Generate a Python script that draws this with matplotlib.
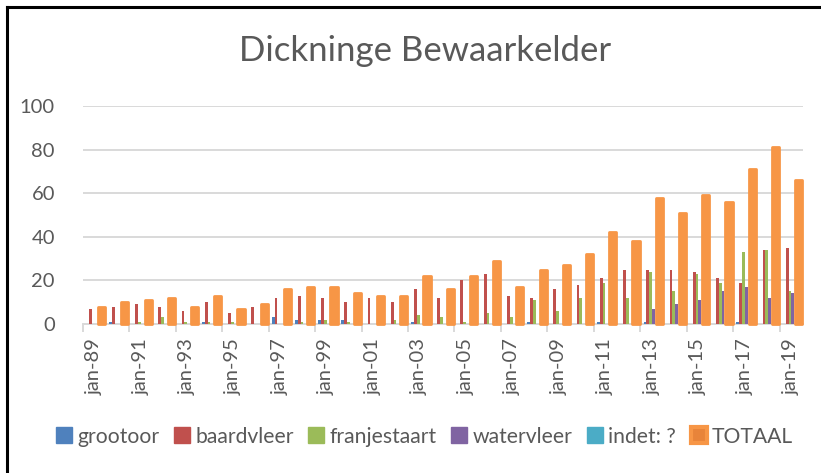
import numpy as np
import matplotlib.pyplot as plt
from matplotlib.patches import Patch
from matplotlib.lines import Line2D

plt.rcParams['font.family'] = ['Lato', 'DejaVu Sans']

# data
years = ['jan-%02d' % (y % 100) for y in range(1989, 2020)]
grootoor = [0, 1, 0, 0, 0, 1, 0, 0, 3, 2, 2, 2, 0, 0, 1, 0, 0, 0, 0, 1,
            0, 0, 1, 0, 1, 0, 0, 0, 1, 0, 0]
baardvleer = [7, 8, 9, 8, 6, 10, 5, 8, 12, 13, 12, 10, 12, 10, 16, 12, 20, 23, 13, 12,
              16, 18, 21, 25, 25, 25, 24, 21, 19, 34, 35]
franjestaart = [0, 0, 1, 3, 1, 1, 1, 0, 0, 1, 2, 1, 0, 2, 4, 3, 1, 5, 3, 11,
                6, 12, 19, 12, 24, 15, 23, 19, 33, 34, 15]
watervleer = [0, 0, 0, 0, 0, 0, 0, 0, 0, 0, 0, 0, 0, 0, 0, 0, 0, 0, 0, 0,
              0, 0, 0, 0, 7, 9, 11, 15, 17, 12, 14]
indet = [0] * 31
totaal = [8, 10, 11, 12, 8, 13, 7, 9, 16, 17, 17, 14, 13, 13, 22, 16, 22, 29, 17, 25,
          27, 32, 42, 38, 58, 51, 59, 56, 71, 81, 66]

names = ['grootoor', 'baardvleer', 'franjestaart', 'watervleer', 'indet: ?']
series = [grootoor, baardvleer, franjestaart, watervleer, indet]
colors = ['#4F81BD', '#C0504D', '#9BBB59', '#8064A2', '#4BACC6']
orange = '#F79646'
grey = '#595959'

fig = plt.figure(figsize=(8.21, 4.73), dpi=100)
ax = fig.add_axes([82.7 / 821, (473 - 324) / 473, (803 - 82.7) / 821, (324 - 106) / 473])

x = np.arange(len(years))
w = 0.121
for k, (vals, c) in enumerate(zip(series, colors)):
    ax.bar(x - 0.3025 + k * w, vals, width=w, color=c, zorder=3)

# total bars: wide, with rounded glow edge
ax.bar(x + 0.315, totaal, width=0.31, color=orange, edgecolor=orange,
       linewidth=2.0, joinstyle='round', zorder=4, clip_on=False)

ax.set_xlim(-0.5, 30.5)
ax.set_ylim(0, 100)
ax.set_yticks(range(0, 101, 20))
ax.yaxis.grid(True, color='#d9d9d9', linewidth=1.4)
ax.set_axisbelow(True)
for s in ['top', 'right', 'left']:
    ax.spines[s].set_visible(False)
ax.spines['bottom'].set_color('#d9d9d9')
ax.spines['bottom'].set_linewidth(1.4)
ax.tick_params(axis='y', length=0, pad=20, labelsize=14.5, labelcolor=grey)

ax.set_xticks(x[::2])
ax.set_xticklabels(years[::2], rotation=90)
ax.set_xticks(np.arange(-0.5, 30, 2), minor=True)
ax.tick_params(axis='x', which='major', length=0, pad=10, labelsize=14.5, labelcolor=grey)
ax.tick_params(axis='x', which='minor', length=6, width=1.4, color='#d9d9d9')

fig.text(0.518, 0.893, 'Dickninge Bewaarkelder', ha='center', va='center',
         fontsize=25, color=grey)

handles = [Patch(facecolor=c, edgecolor=c) for c in colors]
handles.append(Patch(facecolor='#E8843A', edgecolor=orange, linewidth=3))
fig.legend(handles, names + ['TOTAAL'], loc='center', bbox_to_anchor=(0.517, 0.077),
           ncol=6, frameon=False, fontsize=15.2, labelcolor=grey,
           handlelength=0.75, handleheight=0.75, handletextpad=0.25, columnspacing=0.7)

# outer chart border (top and left visible)
fig.add_artist(Line2D([7 / 821, 7 / 821], [0, 1 - 7 / 473], color='black', linewidth=2.2))
fig.add_artist(Line2D([7 / 821, 1], [1 - 7 / 473, 1 - 7 / 473], color='black', linewidth=2.2))

fig.savefig('out.png', dpi=100)
